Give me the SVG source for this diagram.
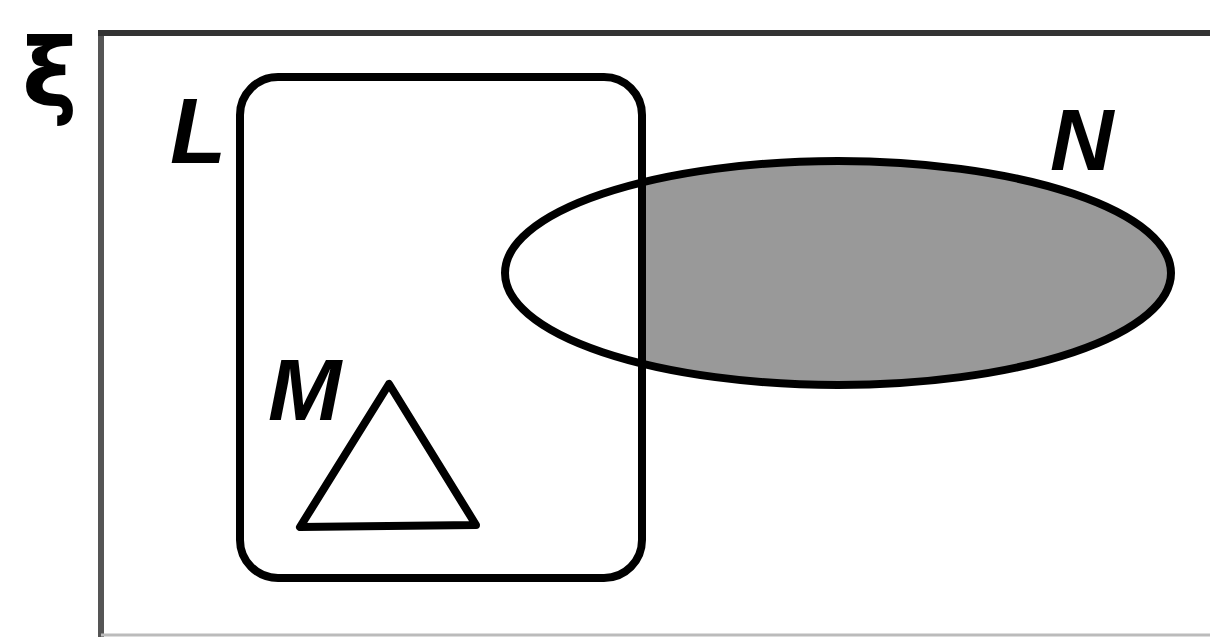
<svg xmlns="http://www.w3.org/2000/svg" width="1210" height="637" viewBox="0 0 1210 637">
<style>
.s{fill:none;stroke:#000;stroke-width:8;stroke-linejoin:round}
.t{font-family:"Liberation Sans",Arial,sans-serif;font-weight:bold;font-style:italic;fill:#000}
</style>
<defs>
<clipPath id="right"><rect x="641" y="0" width="600" height="637"/></clipPath>
</defs>
<rect width="1210" height="637" fill="#fff"/>
<g id="universe">
<line x1="101" y1="33" x2="101" y2="637" stroke="#555" stroke-width="6"/>
<line x1="98" y1="33" x2="1210" y2="33" stroke="#333" stroke-width="6"/>
<line x1="101" y1="635" x2="1210" y2="635" stroke="#bbb" stroke-width="3"/>
<text x="22" y="106" font-family="DejaVu Sans,sans-serif" font-weight="bold" font-size="94" fill="#000">ξ</text>
</g>
<g id="N">
<ellipse cx="838" cy="273" rx="333" ry="112" fill="#999" clip-path="url(#right)"/>
<ellipse class="s" cx="838" cy="273" rx="333" ry="112"/>
<text class="t" x="1050" y="170" font-size="88">N</text>
</g>
<g id="L">
<rect class="s" x="240" y="77" width="402" height="501" rx="38"/>
<text class="t" x="170" y="163" font-size="92">L</text>
</g>
<g id="M">
<polygon class="s" points="389,384 300,527 476,525" stroke-width="9"/>
<text class="t" x="268" y="420" font-size="88">M</text>
</g>
<g id="connectors"/>
</svg>
